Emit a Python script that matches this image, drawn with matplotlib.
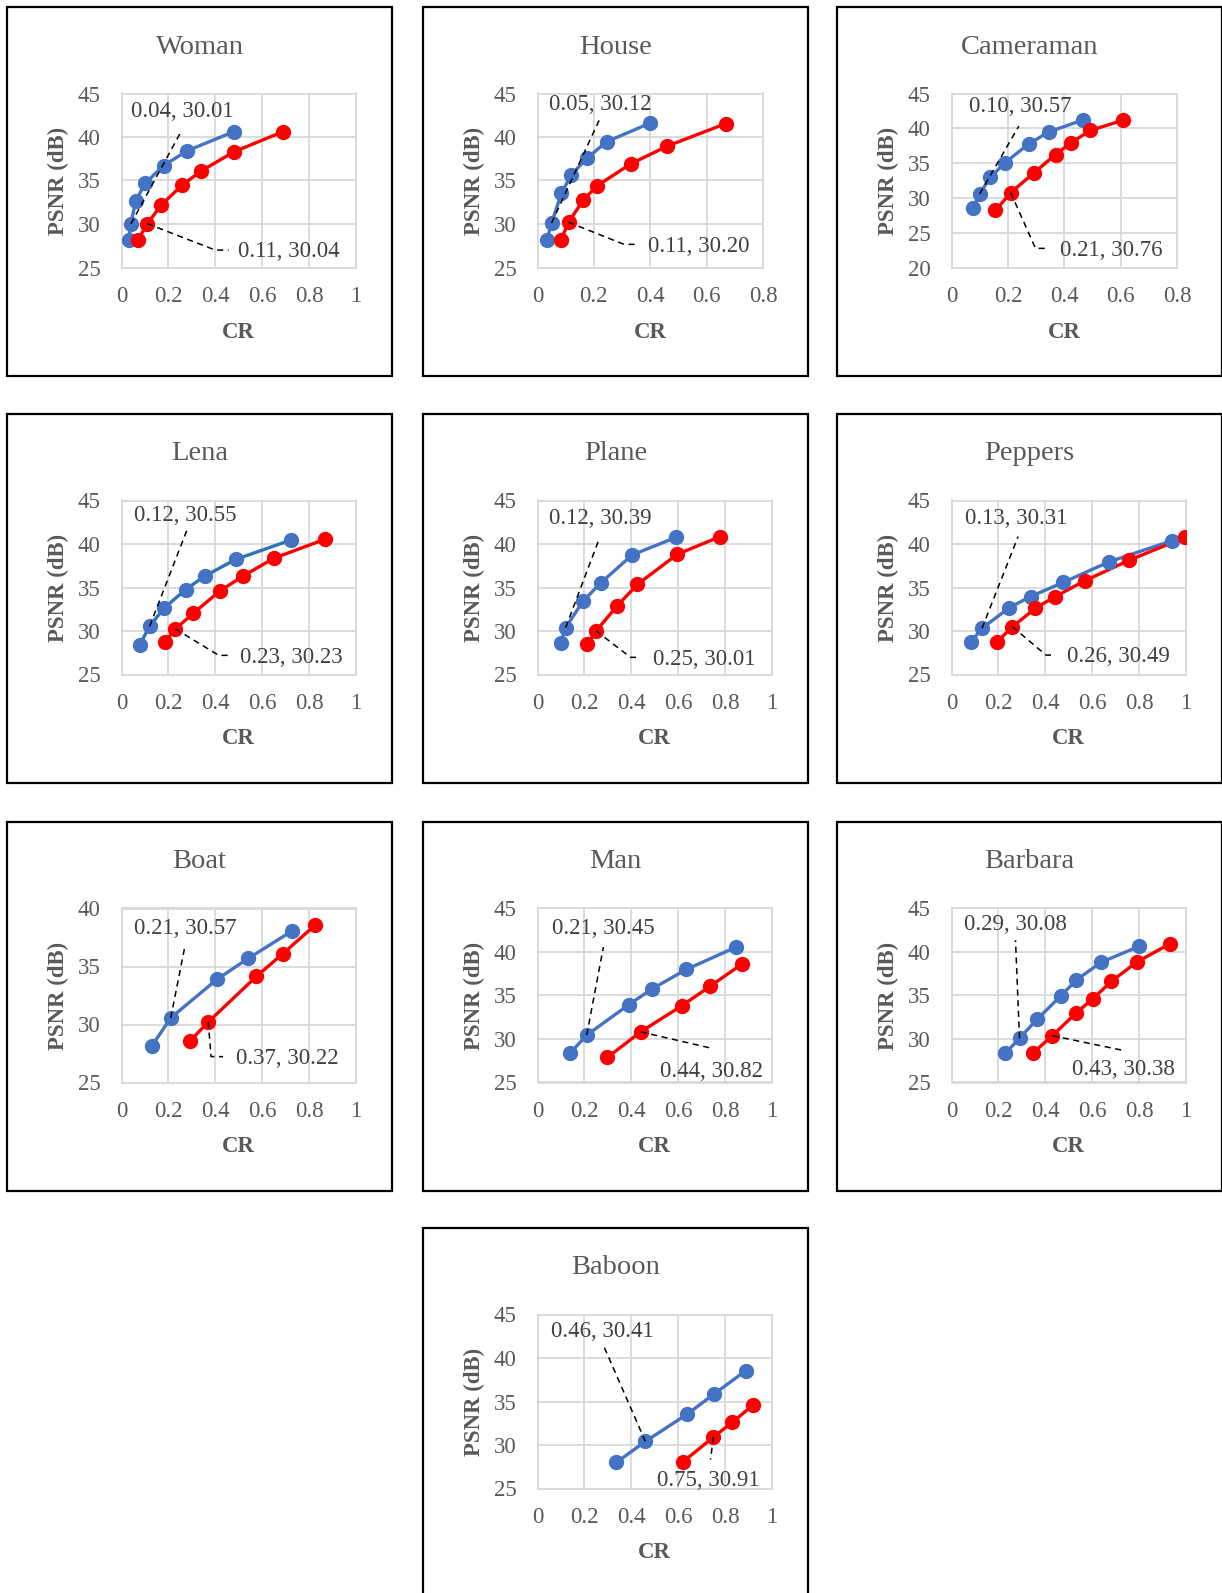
import matplotlib
matplotlib.use('Agg')
import matplotlib.pyplot as plt
from matplotlib.patches import Rectangle

plt.rcParams['font.family'] = ['Liberation Serif', 'DejaVu Serif']

# data: (CR, PSNR) per image, blue = first method, red = second method
names = ['Woman', 'House', 'Cameraman', 'Lena', 'Plane', 'Peppers',
         'Boat', 'Man', 'Barbara', 'Baboon']

woman_blue_x = [0.03, 0.04, 0.06, 0.10, 0.18, 0.28, 0.48]
woman_blue_y = [28.14, 30.01, 32.59, 34.66, 36.72, 38.41, 40.63]
woman_red_x = [0.07, 0.11, 0.17, 0.26, 0.34, 0.48, 0.69]
woman_red_y = [28.14, 30.04, 32.20, 34.50, 36.10, 38.30, 40.63]

house_blue_x = [0.033, 0.05, 0.085, 0.12, 0.177, 0.245, 0.40]
house_blue_y = [28.12, 30.12, 33.55, 35.67, 37.60, 39.45, 41.60]
house_red_x = [0.083, 0.11, 0.163, 0.212, 0.33, 0.46, 0.667]
house_red_y = [28.12, 30.20, 32.78, 34.40, 36.90, 38.95, 41.53]

camera_blue_x = [0.077, 0.10, 0.138, 0.191, 0.274, 0.345, 0.466]
camera_blue_y = [28.53, 30.57, 33.00, 35.08, 37.77, 39.46, 41.20]
camera_red_x = [0.156, 0.21, 0.292, 0.369, 0.424, 0.493, 0.608]
camera_red_y = [28.19, 30.76, 33.58, 36.23, 37.92, 39.70, 41.15]

lena_blue_x = [0.078, 0.12, 0.181, 0.273, 0.354, 0.487, 0.724]
lena_blue_y = [28.44, 30.55, 32.62, 34.75, 36.30, 38.23, 40.47]
lena_red_x = [0.187, 0.23, 0.306, 0.418, 0.517, 0.649, 0.868]
lena_red_y = [28.75, 30.23, 32.04, 34.56, 36.30, 38.35, 40.55]

plane_blue_x = [0.099, 0.12, 0.194, 0.27, 0.404, 0.59]
plane_blue_y = [28.67, 30.39, 33.42, 35.54, 38.75, 40.75]
plane_red_x = [0.213, 0.25, 0.338, 0.426, 0.596, 0.777]
plane_red_y = [28.47, 30.01, 32.84, 35.35, 38.82, 40.83]

peppers_blue_x = [0.084, 0.13, 0.247, 0.337, 0.476, 0.673, 0.94]
peppers_blue_y = [28.77, 30.31, 32.69, 33.96, 35.58, 37.96, 40.38]
peppers_red_x = [0.195, 0.26, 0.358, 0.44, 0.568, 0.759, 0.997]
peppers_red_y = [28.77, 30.49, 32.62, 33.92, 35.77, 38.15, 40.77]

boat_blue_x = [0.129, 0.21, 0.408, 0.54, 0.727]
boat_blue_y = [28.14, 30.57, 33.91, 35.69, 38.06]
boat_red_x = [0.292, 0.37, 0.575, 0.687, 0.826]
boat_red_y = [28.57, 30.22, 34.14, 36.09, 38.57]

man_blue_x = [0.139, 0.21, 0.39, 0.489, 0.635, 0.848]
man_blue_y = [28.38, 30.45, 33.96, 35.77, 38.00, 40.58]
man_red_x = [0.298, 0.44, 0.617, 0.735, 0.87]
man_red_y = [27.88, 30.82, 33.85, 36.04, 38.58]

barbara_blue_x = [0.23, 0.29, 0.366, 0.467, 0.531, 0.638, 0.801]
barbara_blue_y = [28.38, 30.08, 32.29, 34.98, 36.75, 38.82, 40.66]
barbara_red_x = [0.347, 0.43, 0.531, 0.602, 0.682, 0.791, 0.933]
barbara_red_y = [28.38, 30.38, 32.98, 34.60, 36.63, 38.86, 40.97]

baboon_blue_x = [0.336, 0.46, 0.638, 0.752, 0.887]
baboon_blue_y = [27.99, 30.41, 33.54, 35.84, 38.52]
baboon_red_x = [0.621, 0.75, 0.83, 0.919]
baboon_red_y = [28.07, 30.91, 32.59, 34.58]

blue_x = [woman_blue_x, house_blue_x, camera_blue_x, lena_blue_x, plane_blue_x,
          peppers_blue_x, boat_blue_x, man_blue_x, barbara_blue_x, baboon_blue_x]
blue_y = [woman_blue_y, house_blue_y, camera_blue_y, lena_blue_y, plane_blue_y,
          peppers_blue_y, boat_blue_y, man_blue_y, barbara_blue_y, baboon_blue_y]
red_x = [woman_red_x, house_red_x, camera_red_x, lena_red_x, plane_red_x,
         peppers_red_x, boat_red_x, man_red_x, barbara_red_x, baboon_red_x]
red_y = [woman_red_y, house_red_y, camera_red_y, lena_red_y, plane_red_y,
         peppers_red_y, boat_red_y, man_red_y, barbara_red_y, baboon_red_y]

# which point of each series carries a data label
blue_label_idx = [1, 1, 1, 1, 1, 1, 1, 1, 1, 1]
red_label_idx = [1, 1, 1, 1, 1, 1, 1, 1, 1, 1]

x_max = [1, 0.8, 0.8, 1, 1, 1, 1, 1, 1, 1]
y_min = [25, 25, 20, 25, 25, 25, 25, 25, 25, 25]
y_max = [45, 45, 45, 45, 45, 45, 40, 45, 45, 45]

# label placement (text position, leader path) in data units
blue_text = [(0.259, 42.93), (0.222, 43.7), (0.245, 43.07), (0.273, 43.26), (0.267, 42.88),
             (0.276, 42.88), (0.273, 38.29), (0.281, 42.69), (0.273, 43.16), (0.277, 43.0)]
blue_lead = [[(0.252, 40.52)], [(0.222, 42.15)], [(0.239, 40.33)], [(0.278, 41.52)],
             [(0.26, 40.37)], [(0.284, 40.85)], [(0.27, 36.71)], [(0.281, 40.58)],
             [(0.273, 41.35)], [(0.284, 41.28)]]
red_text = [(0.496, 26.84, 'left'), (0.392, 27.4, 'left'), (0.384, 22.5, 'left'),
            (0.507, 27.0, 'left'), (0.494, 26.78, 'left'), (0.493, 27.04, 'left'),
            (0.49, 27.06, 'left'), (0.743, 26.27, 'center'), (0.734, 26.53, 'center'),
            (0.73, 25.96, 'center')]
red_lead = [[(0.40, 27.0), (0.457, 27.0)], [(0.307, 27.66), (0.349, 27.66)],
            [(0.298, 22.75), (0.339, 22.75)], [(0.415, 27.2), (0.467, 27.2)],
            [(0.397, 26.97), (0.428, 26.97)], [(0.403, 27.23), (0.426, 27.23)],
            [(0.382, 27.23), (0.433, 27.23)], [(0.745, 28.92)], [(0.734, 28.68)],
            [(0.738, 28.33)]]

W, H = 1222, 1593
fig = plt.figure(figsize=(W / 100, H / 100), dpi=100)

col_left = [7, 423, 837]
row_top = [7, 414, 822, 1228]
panel_w, panel_h = 385, 369
slots = [(0, 0), (0, 1), (0, 2), (1, 0), (1, 1), (1, 2), (2, 0), (2, 1), (2, 2), (3, 1)]

grey = '#595959'
blue_c = '#4472C4'
red_c = '#FF0000'


def fx(px):
    return px / W


def fy(py):
    return 1 - py / H


for i, name in enumerate(names):
    r, c = slots[i]
    pl, pt = col_left[c], row_top[r]
    # panel frame
    fig.patches.append(Rectangle((fx(pl), fy(pt + panel_h)), panel_w / W, panel_h / H,
                                 transform=fig.transFigure, fill=False,
                                 edgecolor='black', linewidth=1.6, clip_on=False))
    fig.text(fx(pl + panel_w / 2), fy(pt + 40), name, ha='center', va='center',
             fontsize=20.5, color=grey)

    right = 340 if x_max[i] < 1 else 349
    ax_l, ax_t, ax_b = pl + 114.5, pt + 86.5, pt + 260.5
    aw, ah = right - 114.5, ax_b - ax_t
    ax = fig.add_axes([fx(ax_l), fy(ax_b), aw / W, ah / H])
    ax.set_xlim(0, x_max[i])
    ax.set_ylim(y_min[i], y_max[i])
    ax.set_xticks([v / 10 for v in range(0, int(x_max[i] * 10) + 1, 2)])
    ax.set_xticklabels(['0' if v == 0 else ('1' if v == 10 else '0.%d' % v)
                        for v in range(0, int(x_max[i] * 10) + 1, 2)])
    ax.set_yticks(range(y_min[i], y_max[i] + 1, 5))
    ax.grid(True, color='#D9D9D9', linewidth=1.3)
    ax.set_axisbelow(True)
    for s in ax.spines.values():
        s.set_color('#D9D9D9')
        s.set_linewidth(1.3)
    ax.tick_params(length=0, labelsize=16.5, labelcolor=grey)
    ax.tick_params(axis='x', pad=13)
    ax.tick_params(axis='y', pad=15)
    ax.set_xlabel('CR', fontsize=16.5, fontweight='bold', color=grey)
    ax.xaxis.set_label_coords(0.5, -54 / ah)
    ax.set_ylabel('PSNR (dB)', fontsize=16.5, fontweight='bold', color=grey)
    ax.yaxis.set_label_coords(-52 / aw, 0.5)

    line_blue = '#2E75B6' if name == 'Lena' else blue_c
    ax.plot(blue_x[i], blue_y[i], color=line_blue, linewidth=2.4, zorder=3)
    ax.plot(blue_x[i], blue_y[i], 'o', color=blue_c, markersize=10, zorder=4)
    ax.plot(red_x[i], red_y[i], color=red_c, linewidth=2.4, zorder=3)
    ax.plot(red_x[i], red_y[i], 'o', color=red_c, markersize=10, zorder=4)

    # data labels with dashed leader lines
    bi = blue_label_idx[i]
    bx, by = blue_x[i][bi], blue_y[i][bi]
    path = [(bx, by)] + blue_lead[i]
    ax.plot([p[0] for p in path], [p[1] for p in path], color='black', ls=(0, (4, 3)),
            linewidth=1.1, zorder=5, clip_on=False)
    ax.text(blue_text[i][0], blue_text[i][1], '%.2f, %.2f' % (bx, by), ha='center',
            va='center', fontsize=16.5, color='#404040', zorder=6)

    ri = red_label_idx[i]
    rx, ry = red_x[i][ri], red_y[i][ri]
    path = [(rx, ry)] + red_lead[i]
    ax.plot([p[0] for p in path], [p[1] for p in path], color='black', ls=(0, (4, 3)),
            linewidth=1.1, zorder=5, clip_on=False)
    tx, ty, ha = red_text[i]
    ax.text(tx, ty, '%.2f, %.2f' % (rx, ry), ha=ha, va='center', fontsize=16.5,
            color='#404040', zorder=6)

fig.savefig('out.png', dpi=100, facecolor='white')
